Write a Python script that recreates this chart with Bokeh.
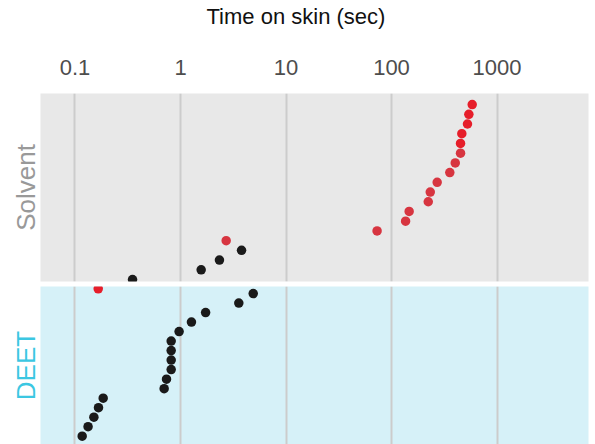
from bokeh.plotting import figure
from bokeh.layouts import column
from bokeh.models import FixedTicker, Range1d, ColumnDataSource
from bokeh.embed import file_html
from bokeh.resources import INLINE

# ---- data ----
tick_values = [0.1, 1, 10, 100, 1000]
tick_labels = ["0.1", "1", "10", "100", "1000"]
panels = ["Solvent", "DEET"]
x_title = "Time on skin (sec)"

solvent_time = [582, 541, 525, 464, 451, 451, 402, 357, 271, 233, 223, 147, 136, 73,
                2.71, 3.79, 2.34, 1.57, 0.351]
solvent_order = [19, 18, 17, 16, 15, 14, 13, 12, 11, 10, 9, 8, 7, 6, 5, 4, 3, 2, 1]
solvent_group = ["bright"] * 5 + ["muted"] * 10 + ["black"] * 4

deet_time = [0.166, 4.89, 3.57, 1.73, 1.27, 0.97, 0.816, 0.816, 0.816, 0.816, 0.737, 0.70,
             0.185, 0.167, 0.151, 0.133, 0.117]
deet_order = [16.5, 16, 15, 14, 13, 12, 11, 10, 9, 8, 7, 6, 5, 4, 3, 2, 1]
deet_group = ["bright"] + ["black"] * 16

# ---- styles ----
colors = {"bright": "#e61e2a", "muted": "#d73540", "black": "#1a1a1a"}
FONT = "Liberation Sans"
W = 595
x_range = Range1d(0.0471, 7366)


def style_common(p, bg, label, label_color):
    p.background_fill_color = bg
    p.border_fill_color = "white"
    p.outline_line_color = None
    p.xgrid.ticker = FixedTicker(ticks=tick_values)
    p.xgrid.grid_line_color = "#cccccc"
    p.xgrid.grid_line_width = 2
    p.ygrid.grid_line_color = None
    ax = p.yaxis[0]
    ax.ticker = FixedTicker(ticks=[])
    ax.axis_line_color = None
    ax.major_tick_line_color = None
    ax.minor_tick_line_color = None
    ax.major_label_text_font_size = "0px"
    ax.major_label_standoff = 0
    ax.axis_label = label
    ax.axis_label_standoff = 0
    ax.axis_label_text_font = FONT
    ax.axis_label_text_font_size = "26px"
    ax.axis_label_text_font_style = "normal"
    ax.axis_label_text_color = label_color


# title strip
p0 = figure(width=W, height=40, x_range=x_range, x_axis_location=None,
            y_axis_location=None, output_backend="svg", toolbar_location=None,
            title=x_title, min_border_left=40, min_border_right=7,
            min_border_top=0, min_border_bottom=0)
p0.background_fill_color = "white"
p0.border_fill_color = "white"
p0.outline_line_color = None
p0.grid.visible = False
p0.title.align = "left"
p0.title.vertical_align = "top"
p0.title.offset = 166
p0.title.standoff = 6
p0.title.text_font = FONT
p0.title.text_font_size = "22px"
p0.title.text_font_style = "normal"
p0.title.text_color = "#111111"

# top panel (Solvent)
p1 = figure(width=W, height=246, x_axis_type="log", x_range=x_range,
            y_range=Range1d(0.794, 20.14), x_axis_location="above",
            output_backend="svg", toolbar_location=None,
            min_border_left=40, min_border_right=7, min_border_top=53,
            min_border_bottom=5)
style_common(p1, "#e8e8e8", panels[0], "#999999")
xa = p1.xaxis[0]
xa.ticker = FixedTicker(ticks=tick_values)
xa.major_label_overrides = dict(zip(tick_values, tick_labels))
xa.axis_line_color = None
xa.major_tick_line_color = None
xa.minor_tick_line_color = None
xa.major_tick_out = 0
xa.major_label_standoff = 19
xa.major_label_text_font = FONT
xa.major_label_text_font_size = "22px"
xa.major_label_text_color = "#4d4d4d"

src1 = ColumnDataSource(dict(x=solvent_time, y=solvent_order,
                             c=[colors[g] for g in solvent_group]))
p1.scatter("x", "y", source=src1, size=9.5, fill_color="c", line_color=None)

# bottom panel (DEET)
p2 = figure(width=W, height=158, x_axis_type="log", x_range=x_range,
            y_range=Range1d(0.127, 16.74), x_axis_location=None,
            output_backend="svg", toolbar_location=None,
            min_border_left=40, min_border_right=7, min_border_top=0,
            min_border_bottom=0)
style_common(p2, "#d6f1f8", panels[1], "#3cc7e2")
src2 = ColumnDataSource(dict(x=deet_time, y=deet_order,
                             c=[colors[g] for g in deet_group]))
p2.scatter("x", "y", source=src2, size=9.5, fill_color="c", line_color=None)

layout = column(p0, p1, p2, spacing=0)
open("out.html", "w").write(file_html(layout, INLINE))
